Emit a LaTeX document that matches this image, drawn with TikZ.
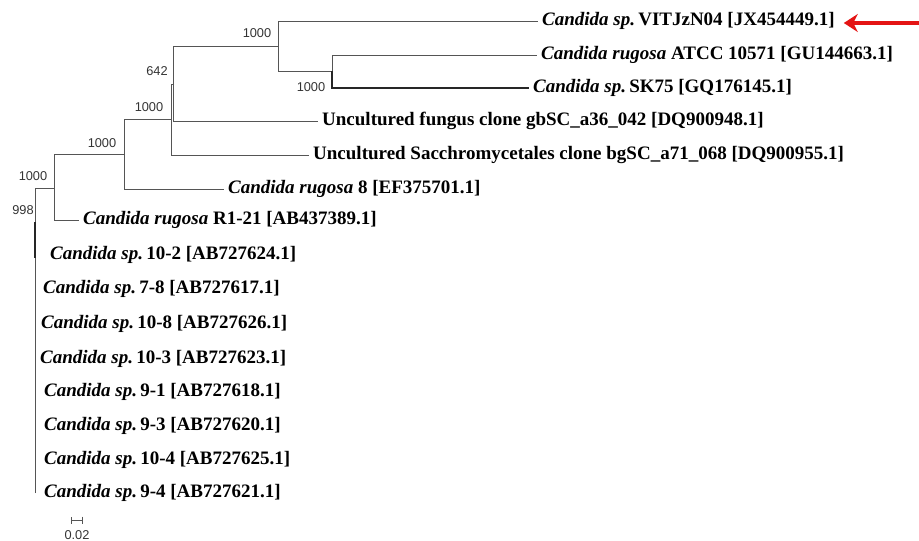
\documentclass[tikz,border=0pt]{standalone}
\usepackage{fontspec}
\setmainfont{Liberation Serif}
\newfontfamily\bootfont{Liberation Sans}
\usetikzlibrary{arrows.meta}
\definecolor{branchgray}{RGB}{85,85,85}
\definecolor{arrowred}{RGB}{228,20,20}

\begin{document}
\begin{tikzpicture}[x=1pt, y=-1pt,
    branch/.style={draw=branchgray, line width=0.9pt},
    heavy/.style={draw=black!85, line width=1.8pt},
    leaf/.style={anchor=west, inner xsep=4pt, inner ysep=0pt, text height=13pt, text depth=4pt,
      font=\fontsize{19}{19}\selectfont\bfseries},
    boot/.style={inner sep=0pt, text=black!80, font=\bootfont\fontsize{12.8}{13}\selectfont},
    pointer/.style={draw=arrowred, line width=3.2pt, -{Stealth[length=14pt, width=18pt]}, shorten >=5pt}]

    \useasboundingbox (0,0) rectangle (919,541);

    % internal nodes of the tree
    \coordinate (A) at (278,46);
    \coordinate (B) at (332,71);
    \coordinate (C) at (173,84);
    \coordinate (D) at (171,119);
    \coordinate (E) at (124,154);
    \coordinate (F) at (54,188);
    \coordinate (R) at (35,493);

    % leaves
    \node[leaf] (vit) at (538,21) {\textit{Candida sp.}\,VITJzN04 [JX454449.1]};
    \node[leaf] (atcc) at (537,55) {\textit{Candida rugosa} ATCC 10571 [GU144663.1]};
    \node[leaf] (sk75) at (529,88) {\textit{Candida sp.}\,SK75 [GQ176145.1]};
    \node[leaf] (fungus) at (318,121) {Uncultured fungus clone gbSC\_a36\_042 [DQ900948.1]};
    \node[leaf] (sacch) at (309,155) {Uncultured Sacchromycetales clone bgSC\_a71\_068 [DQ900955.1]};
    \node[leaf] (rug8) at (224,189) {\textit{Candida rugosa} 8 [EF375701.1]};
    \node[leaf] (r121) at (79,220) {\textit{Candida rugosa} R1-21 [AB437389.1]};
    \node[leaf] (c102) at (46,255) {\textit{Candida sp.}\,10-2 [AB727624.1]};
    \node[leaf] (c78) at (39,289) {\textit{Candida sp.}\,7-8 [AB727617.1]};
    \node[leaf] (c108) at (37,324) {\textit{Candida sp.}\,10-8 [AB727626.1]};
    \node[leaf] (c103) at (36,359) {\textit{Candida sp.}\,10-3 [AB727623.1]};
    \node[leaf] (c91) at (40,392) {\textit{Candida sp.}\,9-1 [AB727618.1]};
    \node[leaf] (c93) at (40,426) {\textit{Candida sp.}\,9-3 [AB727620.1]};
    \node[leaf] (c104) at (40,460) {\textit{Candida sp.}\,10-4 [AB727625.1]};
    \node[leaf] (c94) at (40,493) {\textit{Candida sp.}\,9-4 [AB727621.1]};

    % branches
    \draw[branch] (A) |- (vit.west);
    \draw[branch] (A) |- (B);
    \draw[branch] (B) |- (atcc.west);
    \draw[heavy] (B) |- (sk75.west);
    \draw[branch] (C) |- (A);
    \draw[branch] (C) |- (fungus.west);
    \draw[branch] (D) |- (C);
    \draw[branch] (D) |- (sacch.west);
    \draw[branch] (E) |- (D);
    \draw[branch] (E) |- (rug8.west);
    \draw[branch] (F) |- (E);
    \draw[branch] (F) |- (r121.west);
    \draw[branch] (R) |- (F);
    \coordinate (T1) at (35,222);
    \coordinate (T2) at (35,258);
    \draw[heavy, line width=2.2pt] (T1) -- (T2);

    % bootstrap values
    \node[boot] (bA) at (257,33) {1000};
    \node[boot] (bB) at (311,87) {1000};
    \node[boot] (bC) at (157,71) {642};
    \node[boot] (bD) at (149,107) {1000};
    \node[boot] (bE) at (102,143) {1000};
    \node[boot] (bF) at (33,176) {1000};
    \node[boot] (bR) at (23,210) {998};

    % scale bar
    \coordinate (s1) at (71,520);
    \coordinate (s2) at (83,520);
    \draw[branch, {Bar[width=7pt]}-{Bar[width=7pt]}] (s1) -- (s2);
    \node[boot] (scale) at (77,535) {0.02};

    % pointer to the new isolate
    \coordinate (tail) at (919,23);
    \draw[pointer] (tail) -- (vit.east |- tail);
\end{tikzpicture}
\end{document}
